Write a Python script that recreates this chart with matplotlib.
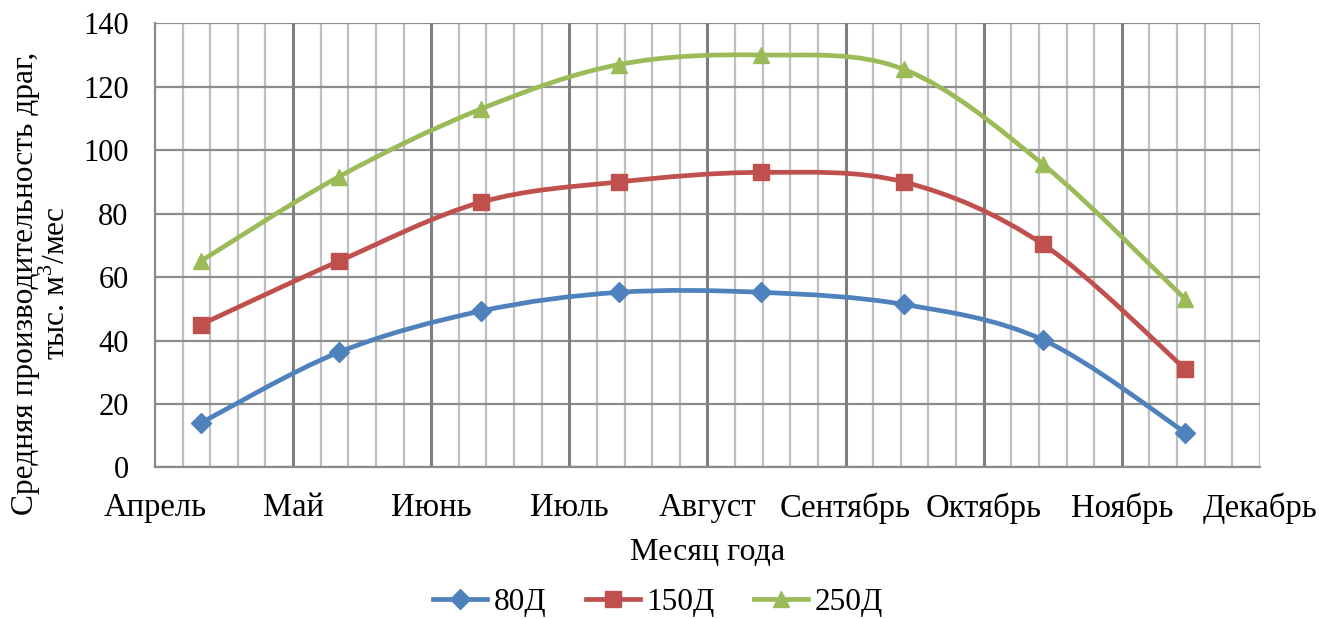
import numpy as np
import matplotlib
matplotlib.use("Agg")
import matplotlib.pyplot as plt
from matplotlib.path import Path
from matplotlib.patches import PathPatch
from matplotlib.lines import Line2D

plt.rcParams['font.family'] = ['Liberation Serif', 'DejaVu Serif']
plt.rcParams['mathtext.fontset'] = 'custom'
plt.rcParams['mathtext.rm'] = 'Liberation Serif'

# month labels on the x axis (integer positions 0..8)
months = ['Апрель', 'Май', 'Июнь', 'Июль', 'Август', 'Сентябрь', 'Октябрь', 'Ноябрь', 'Декабрь']

# x position of each measurement (in month units from the start of April)
x_pts = [0.33, 1.33, 2.36, 3.36, 4.39, 5.42, 6.43, 7.46]

d80 = [14.0, 36.3, 49.3, 55.2, 55.2, 51.4, 40.2, 11.0]
d150 = [45.0, 65.0, 83.6, 90.0, 93.0, 90.0, 70.3, 31.0]
d250 = [65.0, 91.6, 113.0, 127.0, 130.0, 125.5, 95.5, 53.0]

series = [
    ('80Д', d80, '#4F81BD', 'D', 10.5),
    ('150Д', d150, '#C0504D', 's', 11),
    ('250Д', d250, '#9BBB59', '^', 12),
]

LW = 3.4


def smooth_path(x, y):
    # Excel-like smoothed line: cubic bezier with catmull-rom control points
    x = np.asarray(x, float)
    y = np.asarray(y, float)
    n = len(x)
    verts = [(x[0], y[0])]
    codes = [Path.MOVETO]
    for i in range(n - 1):
        x0, y0 = (x[i - 1], y[i - 1]) if i > 0 else (x[i], y[i])
        x3, y3 = (x[i + 2], y[i + 2]) if i + 2 < n else (x[i + 1], y[i + 1])
        c1 = (x[i] + (x[i + 1] - x0) / 6, y[i] + (y[i + 1] - y0) / 6)
        c2 = (x[i + 1] - (x3 - x[i]) / 6, y[i + 1] - (y3 - y[i]) / 6)
        verts += [c1, c2, (x[i + 1], y[i + 1])]
        codes += [Path.CURVE4] * 3
    return Path(verts, codes)


fig = plt.figure(figsize=(13.35, 6.19), dpi=100)
ax = fig.add_axes([0.1161, 0.2448, 0.8277, 0.7176])

ax.set_xlim(0, 8)
ax.set_ylim(0, 140)

# grid
for xv in np.arange(0, 8.01, 0.2):
    if abs(xv - round(xv)) < 1e-6 and 0 < round(xv) < 8:
        ax.axvline(xv, color='#7F7F7F', lw=2.2, zorder=1)
    else:
        ax.axvline(xv, color='#BFBFBF', lw=1.6, zorder=0.5)
for yv in range(0, 141, 20):
    ax.axhline(yv, color='#8C8C8C', lw=1.6, zorder=0.8)

for name, vals, col, mk, ms in series:
    ax.add_patch(PathPatch(smooth_path(x_pts, vals), facecolor='none',
                           edgecolor=col, lw=LW, zorder=3, capstyle='round'))
    ax.plot(x_pts, vals, linestyle='none', marker=mk, color=col, ms=ms,
            mec=col, zorder=4)

for s in ['top', 'right']:
    ax.spines[s].set_visible(False)
for s in ['left', 'bottom']:
    ax.spines[s].set_color('#8C8C8C')
    ax.spines[s].set_linewidth(1.6)

ax.set_xticks(range(9))
ax.set_xticklabels(months)
ax.set_yticks(range(0, 141, 20))
ax.tick_params(axis='both', length=0)
ax.tick_params(axis='x', pad=18, labelsize=23.5)
ax.tick_params(axis='y', pad=19, labelsize=22)

ax.set_xlabel('Месяц года', fontsize=23, labelpad=10)
ax.set_ylabel('Средняя производительность драг,\nтыс. м$^{\\mathrm{3}}$/мес', fontsize=22.6,
              linespacing=1.05)
ax.yaxis.set_label_coords(-0.0751, 0.415)

handles = [Line2D([], [], color=col, lw=LW, marker=mk, ms=ms, mec=col)
           for name, vals, col, mk, ms in series]
fig.legend(handles, [s[0] for s in series], loc='center',
           bbox_to_anchor=(0.493, 0.026), ncol=3, frameon=False, fontsize=22.5,
           handlelength=1.73, handletextpad=0.22, columnspacing=1.25)

fig.savefig('out.png', dpi=100)
